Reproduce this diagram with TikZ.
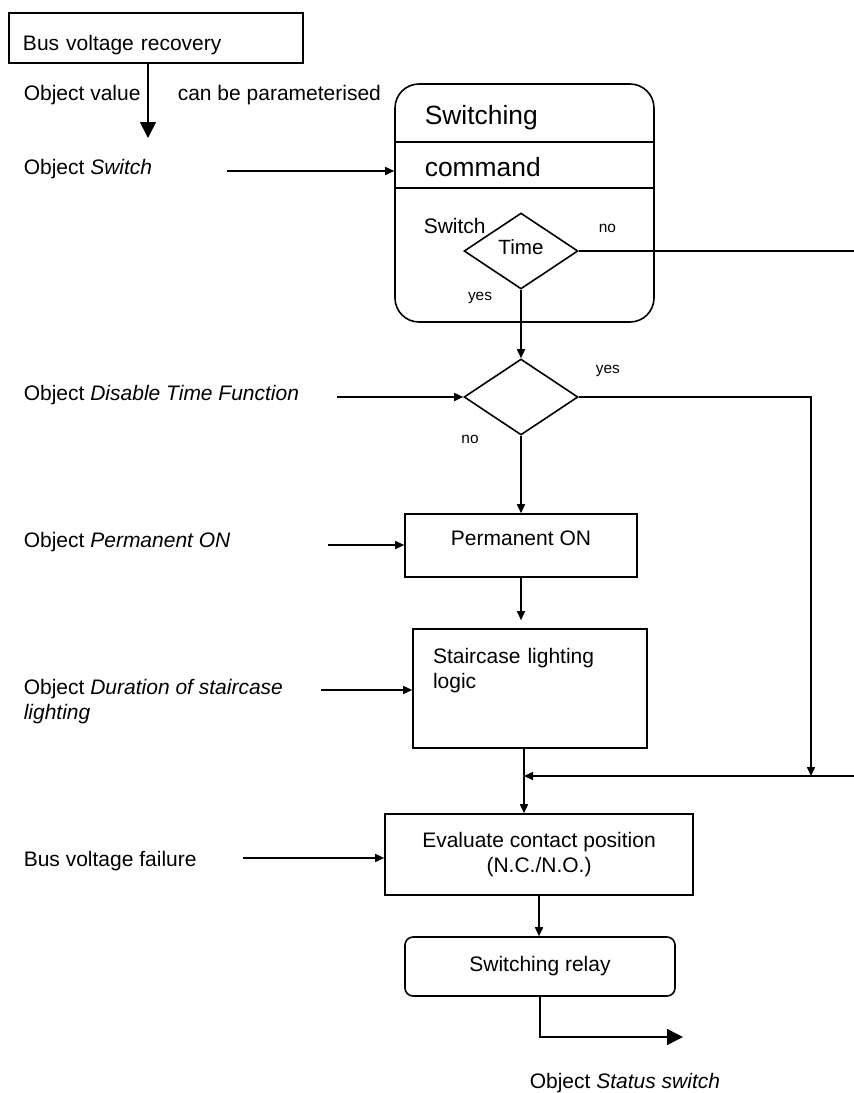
\documentclass[tikz,border=0pt]{standalone}
\usepackage{fontspec}
\setmainfont{Liberation Sans}
\usetikzlibrary{arrows.meta}
\usetikzlibrary{shapes.geometric}

\newcommand{\lift}[2]{\raisebox{#1}[\height][\depth]{#2}}

\tikzset{
  txt/.style={inner sep=0pt, font=\fontsize{10.5}{12.5}\selectfont},
  small/.style={inner sep=0pt, font=\fontsize{7.7}{9}\selectfont},
  blk/.style={draw, inner sep=0pt, font=\fontsize{10.5}{12.5}\selectfont},
  dec/.style={draw, diamond, inner sep=0pt, minimum width=57pt, minimum height=38pt, font=\fontsize{10.3}{12}\selectfont},
  big/.style={-{Triangle[length=8pt,width=8pt]}},
}

\begin{document}
\begin{tikzpicture}[x=0.5pt,y=-0.5pt,line width=0.8pt,>={Triangle[length=4.5pt,width=4pt]}]
\useasboundingbox (0,0) rectangle (854,1093);

\node[blk, minimum width=147pt, minimum height=25pt, inner xsep=7pt, text width=133pt, align=left] (recovery) at (156,38) {\lift{-3.5pt}{Bus voltage recovery}};
\node[txt, anchor=west] (objval) at (23,95) {Object value};
\node[txt, anchor=west] (param) at (177,95) {can be parameterised};
\node[txt, anchor=west] (objsw) at (23,169) {Object \textit{Switch}};

\node[draw, rounded corners=12pt, minimum width=129.5pt, minimum height=119pt] (sw) at (524.5,203) {};
\draw ([yshift=30.5pt]sw.west) -- ([yshift=30.5pt]sw.east);
\draw ([yshift=7.5pt]sw.west) -- ([yshift=7.5pt]sw.east);
\node[txt, font=\fontsize{13.2}{15}\selectfont, anchor=west] (swhead) at (424,118) {Switching};
\node[txt, font=\fontsize{13.2}{15}\selectfont, anchor=west] (swcmd) at (424,167) {command};
\node[txt, anchor=west] (swlbl) at (423,226) {Switch};
\node[dec] (time) at (521,251) {\lift{2pt}{Time}};
\node[small, anchor=west] (tno) at (598,228) {no};
\node[small] (tyes) at (480,298) {yes};

\node[dec] (dis) at (521,397) {};
\node[small, anchor=west] (dyes) at (595,371) {yes};
\node[small] (dno) at (470,439) {no};
\node[txt, anchor=west] (objdis) at (23,395) {Object \textit{Disable Time Function}};

\node[blk, minimum width=116pt, minimum height=31.5pt] (perm) at (521,545.5) {\lift{3.75pt}{Permanent ON}};
\node[txt, anchor=west] (objperm) at (23,542) {Object \textit{Permanent ON}};

\node[blk, minimum width=117pt, minimum height=59.5pt, inner xsep=10pt, text width=97pt, align=left] (stair) at (530,688.5) {\lift{9pt}{\begin{tabular}{@{}l@{}}Staircase lighting\\logic\end{tabular}}};
\node[txt, anchor=west, align=left] (objdur) at (23,701.5) {Object \textit{Duration of staircase}\\\textit{lighting}};

\node[blk, minimum width=154pt, minimum height=40.5pt, align=center] (eval) at (539,854.5) {Evaluate contact position\\(N.C./N.O.)};
\node[txt, anchor=west] (busfail) at (23,861) {Bus voltage failure};

\node[blk, rounded corners=4pt, minimum width=135pt, minimum height=29.5pt] (relay) at (540,966.5) {Switching relay};
\node[txt, anchor=west] (objstat) at (529,1083) {Object \textit{Status switch}};

\coordinate (valend) at (148,138);
\coordinate (in1) at (227,171);
\coordinate (in2) at (337,397);
\coordinate (in3) at (328,545);
\coordinate (in4) at (321,690);
\coordinate (in5) at (243,858);
\coordinate (out1) at (854,251);
\coordinate (out2) at (854,776);
\coordinate (drop) at (811,776);
\coordinate (merge) at (524,776);
\coordinate (status) at (683,1037);

\draw[big] (recovery.south -| valend) -- (valend);
\draw[->] (in1) -- (in1 -| sw.west);
\draw (time.east) -- (out1);
\draw[->] (time.south) -- (dis.north);
\draw[->] (in2) -- (dis.west);
\draw[->] (dis.east) -| (drop);
\draw[->] (dis.south) -- (perm.north);
\draw[->] (in3) -- (in3 -| perm.west);
\draw[->,shorten >=4pt] (perm.south) -- (perm.south |- stair.north);
\draw[->] (in4) -- (in4 -| stair.west);
\draw (stair.south -| merge) -- (merge);
\draw[->] (out2) -- (merge);
\draw[->] (merge) -- (merge |- eval.north);
\draw[->] (in5) -- (in5 -| eval.west);
\draw[->] (eval.south) -- (eval.south |- relay.north);
\draw[big] (relay.south) |- (status);
\end{tikzpicture}
\end{document}
